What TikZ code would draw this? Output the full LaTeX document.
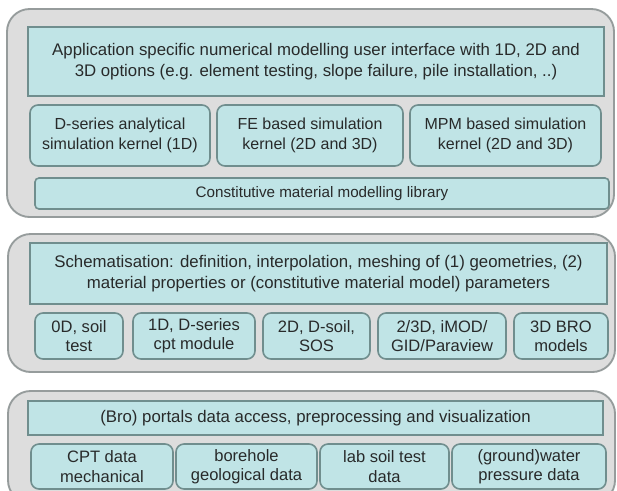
\documentclass[tikz,border=0pt]{standalone}
\usepackage{fontspec}
\setmainfont{Liberation Sans}
\definecolor{panelfill}{RGB}{221,221,221}
\definecolor{panelline}{RGB}{150,156,156}
\definecolor{boxfill}{RGB}{192,228,230}
\definecolor{boxline}{RGB}{112,142,142}
\definecolor{txt}{RGB}{40,42,42}
\begin{document}
\begin{tikzpicture}[x=0.75pt,y=-0.75pt,
  panel/.style={draw=panelline, fill=panelfill, line width=1.4pt, rounded corners=17pt, inner sep=0pt, outer sep=0pt},
  box/.style={draw=boxline, fill=boxfill, line width=1.2pt, text=txt, align=center, inner sep=0pt, outer sep=0pt},
  sq/.style={box, rounded corners=0pt},
  rbox/.style={box, rounded corners=6pt},
  wh/.style 2 args={minimum width=#1*0.75pt, minimum height=#2*0.75pt},
  big/.style={font=\fontsize{12.6}{16}\selectfont},
  mid/.style={font=\fontsize{12}{14.5}\selectfont},
  lib/.style={font=\fontsize{11.4}{14}\selectfont},
  small/.style={font=\fontsize{12.4}{14.5}\selectfont}]
\useasboundingbox (0,0) rectangle (617,490);
\clip (0,0) rectangle (617,490);
\fill[white] (0,0) rectangle (617,490);
% panels
\node[panel, wh={607}{208}] (p1) at (310.5,113) {};
\node[panel, wh={607}{138}] (p2) at (311.5,303) {};
\node[panel, wh={607}{112}] (p3) at (311.5,447) {};
% panel 1
\node[sq, big, wh={576}{69}] (ui) at (316,61.5) {Application specific numerical modelling user interface with 1D, 2D and\\3D options (e.g. element testing, slope failure, pile installation, ..)};
\node[rbox, mid, wh={180}{61}] (k1) at (120,135.5) {D-series analytical\\simulation kernel (1D)};
\node[rbox, mid, wh={186}{61}] (k2) at (310,135.5) {FE based simulation\\kernel (2D and 3D)};
\node[rbox, mid, wh={191}{61}] (k3) at (505.5,135.5) {MPM based simulation\\kernel (2D and 3D)};
\node[box, rounded corners=3pt, lib, wh={574}{31}] (libr) at (322,193.5) {Constitutive material modelling library};
% panel 2
\node[sq, big, wh={577}{61}] (sch) at (318.5,273.5) {Schematisation: definition, interpolation, meshing of (1) geometries, (2)\\material properties or (constitutive material model) parameters};
\node[rbox, small, wh={88}{46}] (s1) at (79,336) {0D, soil\\test};
\node[rbox, small, wh={122}{46}] (s2) at (194,336) {1D, D-series\\cpt module};
\node[rbox, small, wh={107}{46}] (s3) at (316.5,336) {2D, D-soil,\\SOS};
\node[rbox, small, wh={128}{46}] (s4) at (442,336) {2/3D, iMOD/\\GID/Paraview};
\node[rbox, small, wh={94}{46}] (s5) at (561,336) {3D BRO\\models};
% panel 3
\node[sq, big, wh={575}{34}] (bro) at (315.5,418) {(Bro) portals data access, preprocessing and visualization};
\node[rbox, small, wh={142}{45}] (d1) at (102,466.5) {CPT data\\mechanical};
\node[rbox, small, wh={141}{45}] (d2) at (246.5,466.5) {borehole\\geological data};
\node[rbox, small, wh={129}{45}] (d3) at (384.5,466.5) {lab soil test\\data};
\node[rbox, small, wh={154}{45}] (d4) at (529,466.5) {(ground)water\\pressure data};
\end{tikzpicture}
\end{document}
